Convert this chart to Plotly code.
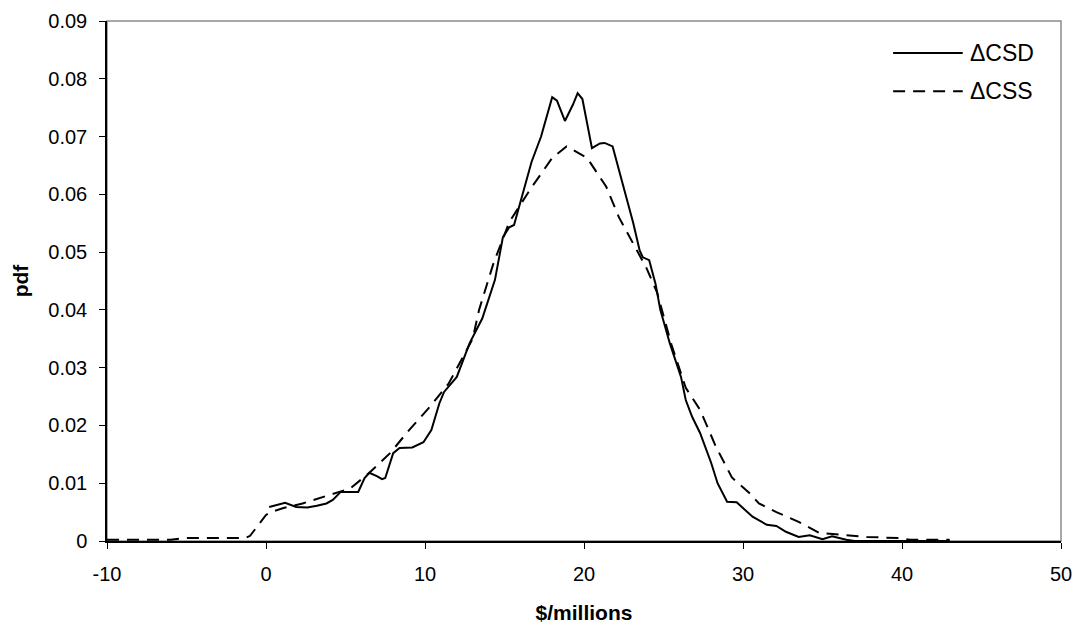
import plotly.graph_objects as go

# ---- data ----
csd_x = [0.2, 0.6, 1.2, 1.9, 2.6, 3.2, 3.8, 4.2, 4.7, 5.3, 5.8, 6.2, 6.5, 7.0, 7.3, 7.5,
         8.0, 8.4, 9.2, 9.9, 10.4, 10.9, 11.2, 12.0, 12.8, 13.6, 14.4, 14.9, 15.3, 15.6,
         16.1, 16.7, 17.3, 17.7, 18.0, 18.3, 18.8, 19.3, 19.6, 19.9, 20.2, 20.5, 21.0,
         21.3, 21.8, 22.2, 22.7, 23.1, 23.5, 23.7, 24.1, 24.5, 24.8, 25.4, 26.1, 26.4,
         26.8, 27.3, 28.0, 28.4, 29.0, 29.6, 30.6, 31.5, 32.1, 32.7, 33.5, 34.2, 35.0,
         35.6, 36.5, 37.0, 43.0]
csd_y = [0.0059, 0.0062, 0.0066, 0.0059, 0.0058, 0.0061, 0.0065, 0.0071, 0.0085, 0.0085,
         0.0085, 0.0109, 0.0118, 0.0112, 0.0107, 0.0109, 0.0152, 0.0161, 0.0162, 0.0171,
         0.0192, 0.0238, 0.0258, 0.0284, 0.0342, 0.0385, 0.0452, 0.0526, 0.0543, 0.0547,
         0.0595, 0.0656, 0.0700, 0.0740, 0.0768, 0.0762, 0.0727, 0.0755, 0.0775, 0.0765,
         0.0720, 0.0680, 0.0688, 0.0689, 0.0683, 0.0642, 0.0590, 0.0550, 0.0503, 0.0491,
         0.0486, 0.0445, 0.0400, 0.0342, 0.0284, 0.0244, 0.0215, 0.0187, 0.0135, 0.0100,
         0.0068, 0.0067, 0.0042, 0.0028, 0.0026, 0.0016, 0.0007, 0.0010, 0.0003, 0.0008,
         0.0002, 0.0000, 0.0000]

css_x = [-10.0, -6.0, -5.2, -1.3, -1.0, 0.0, 0.3, 1.1, 2.3, 4.0, 5.3, 6.5, 7.8, 9.0, 10.3,
         11.5, 12.4, 13.0, 13.4, 14.3, 15.3, 16.7, 18.0, 18.9, 20.2, 21.4, 22.2, 23.0,
         23.9, 24.6, 25.5, 26.4, 27.3, 28.3, 29.3, 30.4, 31.0, 32.1, 33.5, 34.8, 35.6,
         37.8, 39.8, 40.5, 43.0]
css_y = [0.0002, 0.0002, 0.0005, 0.0005, 0.0009, 0.0045, 0.0050, 0.0057, 0.0065, 0.0080,
         0.0091, 0.0118, 0.0152, 0.0192, 0.0232, 0.0273, 0.0318, 0.0350, 0.0400, 0.0480,
         0.0552, 0.0612, 0.0663, 0.0683, 0.0663, 0.0613, 0.0560, 0.0520, 0.0474, 0.0430,
         0.0340, 0.0265, 0.0227, 0.0163, 0.0110, 0.0083, 0.0065, 0.0050, 0.0033, 0.0014,
         0.0012, 0.0007, 0.0005, 0.0002, 0.0002]

series_names = ["ΔCSD", "ΔCSS"]
x_tick_vals = [-10, 0, 10, 20, 30, 40, 50]
x_tick_text = ["-10", "0", "10", "20", "30", "40", "50"]
y_tick_vals = [0, 0.01, 0.02, 0.03, 0.04, 0.05, 0.06, 0.07, 0.08, 0.09]
y_tick_text = ["0", "0.01", "0.02", "0.03", "0.04", "0.05", "0.06", "0.07", "0.08", "0.09"]

FONT = "Liberation Sans, Arial, Helvetica, sans-serif"

fig = go.Figure()
fig.add_trace(go.Scatter(x=csd_x, y=csd_y, mode="lines", name=series_names[0],
                         line=dict(color="black", width=2), showlegend=False))
fig.add_trace(go.Scatter(x=css_x, y=css_y, mode="lines", name=series_names[1],
                         line=dict(color="black", width=2, dash="12px,8px"), showlegend=False))

# plot-area frame (grey top/right)
fig.add_shape(type="rect", xref="paper", yref="paper", x0=0, x1=1, y0=0, y1=1,
              line=dict(color="#8c8c8c", width=1.5), layer="below")

# legend drawn inside plot area
leg_rows = [0.9385, 0.865]
dashes = ["solid", "12px,8px"]
for name, yy, d in zip(series_names, leg_rows, dashes):
    fig.add_shape(type="line", xref="paper", yref="paper", x0=0.824, x1=0.897, y0=yy, y1=yy,
                  line=dict(color="black", width=2, dash=d))
    fig.add_annotation(xref="paper", yref="paper", x=0.903, y=yy, text=name,
                       showarrow=False, xanchor="left", yanchor="middle",
                       font=dict(family=FONT, size=23, color="black"))

fig.update_layout(
    width=1076, height=628,
    margin=dict(l=107, r=15, t=21, b=87),
    paper_bgcolor="white", plot_bgcolor="white",
    font=dict(family=FONT, color="black"),
)
fig.update_xaxes(range=[-10, 50], tickvals=x_tick_vals, ticktext=x_tick_text,
                 automargin=False,
                 showgrid=False, zeroline=False, showline=True, linecolor="black", linewidth=1.5,
                 ticks="outside", ticklen=6, tickcolor="black", tickwidth=1,
                 ticklabelstandoff=8,
                 tickfont=dict(family=FONT, size=20, color="black"),
                 title=dict(text="<b>$/millions</b>", standoff=22,
                            font=dict(family=FONT, size=21, color="black")))
fig.update_yaxes(range=[0, 0.09], tickvals=y_tick_vals, ticktext=y_tick_text,
                 automargin=False,
                 showgrid=False, zeroline=False, showline=True, linecolor="black", linewidth=1.5,
                 ticks="outside", ticklen=6, tickcolor="black", tickwidth=1,
                 ticklabelstandoff=8,
                 tickfont=dict(family=FONT, size=20, color="black"),
                 title=dict(text="<b>pdf</b>", standoff=14,
                            font=dict(family=FONT, size=21, color="black")))

fig.write_html("out.html", config={"displayModeBar": False},
               post_script="document.body.style.margin='0';document.body.style.overflow='hidden';")
